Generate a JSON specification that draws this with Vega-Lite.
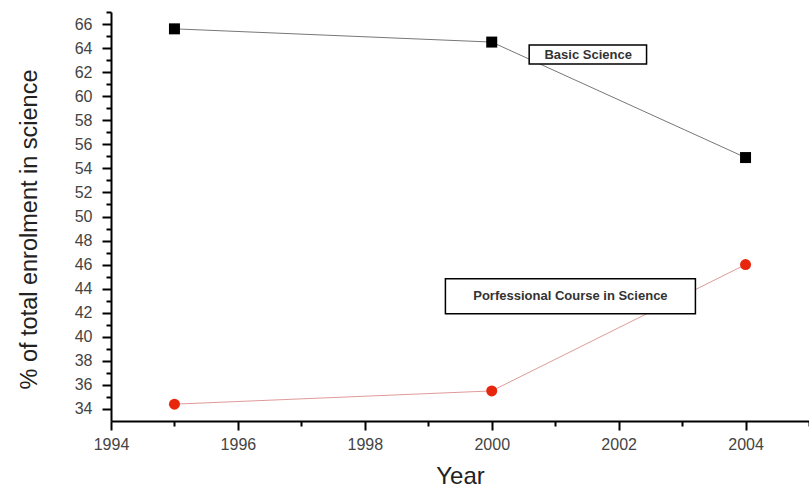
{
  "$schema": "https://vega.github.io/schema/vega-lite/v6.json",
  "width": 698,
  "height": 409,
  "autosize": "none",
  "padding": {"left": 111, "top": 12, "right": 0, "bottom": 66},
  "background": "white",
  "config": {
    "view": {"stroke": null},
    "font": "Liberation Sans",
    "axis": {"labelOverlap": false, "labelBound": false, "labelFlush": false}
  },
  "datasets": {
    "series": [
      {"year": 1995, "pct": 65.6, "series": "Basic Science"},
      {"year": 2000, "pct": 64.5, "series": "Basic Science"},
      {"year": 2004, "pct": 54.9, "series": "Basic Science"},
      {"year": 1995, "pct": 34.4, "series": "Porfessional Course in Science"},
      {"year": 2000, "pct": 35.5, "series": "Porfessional Course in Science"},
      {"year": 2004, "pct": 46.0, "series": "Porfessional Course in Science"}
    ],
    "notes": [
      {"label": "Basic Science", "x1": 2000.59, "x2": 2002.44, "y1": 64.25, "y2": 62.67, "xc": 2001.52, "yc": 63.46},
      {"label": "Porfessional Course in Science", "x1": 1999.27, "x2": 2003.21, "y1": 44.83, "y2": 41.92, "xc": 2001.24, "yc": 43.38}
    ]
  },
  "encoding": {
    "x": {
      "field": "year", "type": "quantitative",
      "scale": {"domain": [1994, 2005], "nice": false, "zero": false},
      "axis": {
        "values": [1994, 1995, 1996, 1997, 1998, 1999, 2000, 2001, 2002, 2003, 2004, 2005],
        "format": "d",
        "labelExpr": "datum.value % 2 === 0 ? datum.label : ''",
        "labelOverlap": false,
        "tickSize": {"condition": {"test": "datum.value % 2 === 0", "value": 9}, "value": 5},
        "tickWidth": 2, "tickColor": "black",
        "domainColor": "black", "domainWidth": 2,
        "labelFontSize": 16, "labelColor": "#444444", "labelPadding": 6,
        "labelFont": "Liberation Sans",
        "title": "Year", "titleFontSize": 24, "titleFontWeight": "normal",
        "titleColor": "#222222", "titlePadding": 12, "titleFont": "Liberation Sans",
        "grid": false
      }
    },
    "y": {
      "field": "pct", "type": "quantitative",
      "scale": {"domain": [33, 67], "nice": false, "zero": false},
      "axis": {
        "values": [34, 35, 36, 37, 38, 39, 40, 41, 42, 43, 44, 45, 46, 47, 48, 49, 50, 51, 52, 53, 54, 55, 56, 57, 58, 59, 60, 61, 62, 63, 64, 65, 66, 67],
        "format": "d",
        "labelExpr": "datum.value % 2 === 0 ? datum.label : ''",
        "labelOverlap": false,
        "tickSize": {"condition": {"test": "datum.value % 2 === 0", "value": 9}, "value": 5},
        "tickWidth": 2, "tickColor": "black",
        "domainColor": "black", "domainWidth": 2,
        "labelFontSize": 16, "labelColor": "#444444", "labelPadding": 10,
        "labelFont": "Liberation Sans",
        "title": "% of total enrolment in science", "titleFontSize": 23.5, "titleFontWeight": "normal",
        "titleColor": "#222222", "titlePadding": 33, "titleY": 217, "titleFont": "Liberation Sans",
        "grid": false
      }
    }
  },
  "layer": [
    {
      "data": {"name": "series"},
      "transform": [{"filter": "datum.series === 'Basic Science'"}],
      "mark": {"type": "line", "color": "#777777", "strokeWidth": 1}
    },
    {
      "data": {"name": "series"},
      "transform": [{"filter": "datum.series !== 'Basic Science'"}],
      "mark": {"type": "line", "color": "#e09a9a", "strokeWidth": 1}
    },
    {
      "data": {"name": "series"},
      "transform": [{"filter": "datum.series === 'Basic Science'"}],
      "mark": {"type": "point", "shape": "square", "filled": true, "color": "black", "opacity": 1, "size": 121}
    },
    {
      "data": {"name": "series"},
      "transform": [{"filter": "datum.series !== 'Basic Science'"}],
      "mark": {"type": "point", "shape": "circle", "filled": true, "color": "#e8260e", "opacity": 1, "size": 121}
    },
    {
      "data": {"name": "notes"},
      "mark": {"type": "rect", "fill": "white", "stroke": "black", "strokeWidth": 1.5},
      "encoding": {
        "x": {"field": "x1", "type": "quantitative"},
        "x2": {"field": "x2"},
        "y": {"field": "y1", "type": "quantitative"},
        "y2": {"field": "y2"}
      }
    },
    {
      "data": {"name": "notes"},
      "mark": {"type": "text", "fontSize": 13, "fontWeight": "bold", "color": "#333333", "font": "Liberation Sans", "align": "center", "baseline": "middle"},
      "encoding": {
        "x": {"field": "xc", "type": "quantitative"},
        "y": {"field": "yc", "type": "quantitative"},
        "text": {"field": "label"}
      }
    }
  ]
}
